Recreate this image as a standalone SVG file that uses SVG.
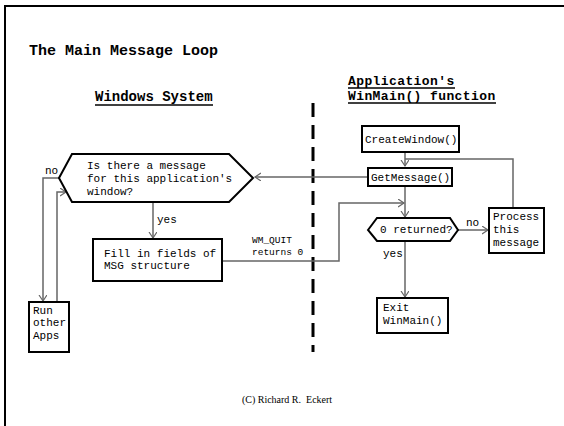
<svg xmlns="http://www.w3.org/2000/svg" width="564" height="426" viewBox="0 0 564 426">
<defs>
<style>
.t{font-family:"Liberation Mono","Courier New",monospace;font-size:11px;fill:#000}
.s{font-family:"Liberation Mono","Courier New",monospace;font-size:9.5px;fill:#000}
.h{font-family:"Liberation Mono","Courier New",monospace;font-size:14px;font-weight:bold;fill:#000}
.h2{font-family:"Liberation Mono","Courier New",monospace;font-size:13px;letter-spacing:0.4px;font-weight:bold;fill:#000}
.box{fill:#fff;stroke:#000;stroke-width:2}
.c{fill:none;stroke:#666;stroke-width:1.5}
.ul{stroke:#000;stroke-width:1.5}
</style>
<marker id="a" markerUnits="userSpaceOnUse" markerWidth="10" markerHeight="10" refX="6" refY="4" orient="auto">
<path d="M0,0 L6,4 L0,8" fill="none" stroke="#666" stroke-width="1.2"/>
</marker>
</defs>
<rect width="564" height="426" fill="#fff"/>
<path d="M5,426 V6 H564" fill="none" stroke="#000" stroke-width="2"/>
<text x="29" y="55" class="h" style="font-size:15px">The Main Message Loop</text>
<text x="95" y="101" class="h">Windows System</text>
<line x1="95" y1="105" x2="213" y2="105" class="ul"/>
<text x="348" y="85" class="h2">Application's</text>
<line x1="348" y1="88" x2="455" y2="88" class="ul"/>
<text x="348" y="100" class="h2">WinMain() function</text>
<line x1="348" y1="103" x2="496" y2="103" class="ul"/>
<line x1="313" y1="103" x2="313" y2="352" stroke="#000" stroke-width="3" stroke-dasharray="14,8"/>
<g id="connectors">
<path class="c" d="M405,152 V166" marker-end="url(#a)"/>
<path class="c" d="M513,208 V159 H405"/>
<path class="c" d="M368,177 H255" marker-end="url(#a)"/>
<path class="c" d="M153,202 V238" marker-end="url(#a)"/>
<path class="c" d="M59,178 H43 V301" marker-end="url(#a)"/>
<path class="c" d="M57,302 V192 H66" marker-end="url(#a)"/>
<path class="c" d="M222,261 H339 V203 H404" marker-end="url(#a)"/>
<path class="c" d="M405,186 V217" marker-end="url(#a)"/>
<path class="c" d="M405,241 V297" marker-end="url(#a)"/>
<path class="c" d="M458,230 H488" marker-end="url(#a)"/>
<text x="45" y="174" class="t">no</text>
<text x="157" y="223" class="t">yes</text>
<text x="252" y="243" class="s">WM_QUIT</text>
<text x="252" y="255" class="s">returns 0</text>
<text x="383" y="257" class="t">yes</text>
<text x="466" y="226" class="t">no</text>
</g>
<g id="createwindow">
<rect x="362" y="126" width="97" height="26" class="box"/>
<text x="365" y="143" class="t">CreateWindow()</text>
</g>
<g id="getmessage">
<rect x="368" y="168" width="84" height="18" class="box"/>
<text x="371" y="181" class="t">GetMessage()</text>
</g>
<g id="question">
<polygon points="59,178 72,154 229,154 253,178 229,202 72,202" class="box"/>
<text x="87" y="169" class="t">Is there a message</text>
<text x="87" y="182" class="t">for this application's</text>
<text x="87" y="195" class="t">window?</text>
</g>
<g id="fill">
<rect x="93" y="239" width="129" height="42" class="box"/>
<text x="104" y="257" class="t">Fill in fields of</text>
<text x="104" y="269" class="t">MSG structure</text>
</g>
<g id="runother">
<rect x="29" y="302" width="40" height="50" class="box"/>
<text x="33" y="314" class="t">Run</text>
<text x="33" y="326" class="t">other</text>
<text x="33" y="339" class="t">Apps</text>
</g>
<g id="zeroreturned">
<polygon points="368,230 377,218 450,218 458,230 450,241 377,241" class="box"/>
<text x="380" y="233" class="t">0 returned?</text>
</g>
<g id="process">
<rect x="489" y="208" width="55" height="45" class="box"/>
<text x="493" y="220" class="t">Process</text>
<text x="493" y="233" class="t">this</text>
<text x="493" y="246" class="t">message</text>
</g>
<g id="exit">
<rect x="377" y="298" width="71" height="35" class="box"/>
<text x="383" y="311" class="t">Exit</text>
<text x="383" y="324" class="t">WinMain()</text>
</g>
<text x="287" y="403" text-anchor="middle" xml:space="preserve" style="font-family:'Liberation Serif','Times New Roman',serif;font-size:10px;white-space:pre">(C) Richard R.  Eckert</text>
</svg>
